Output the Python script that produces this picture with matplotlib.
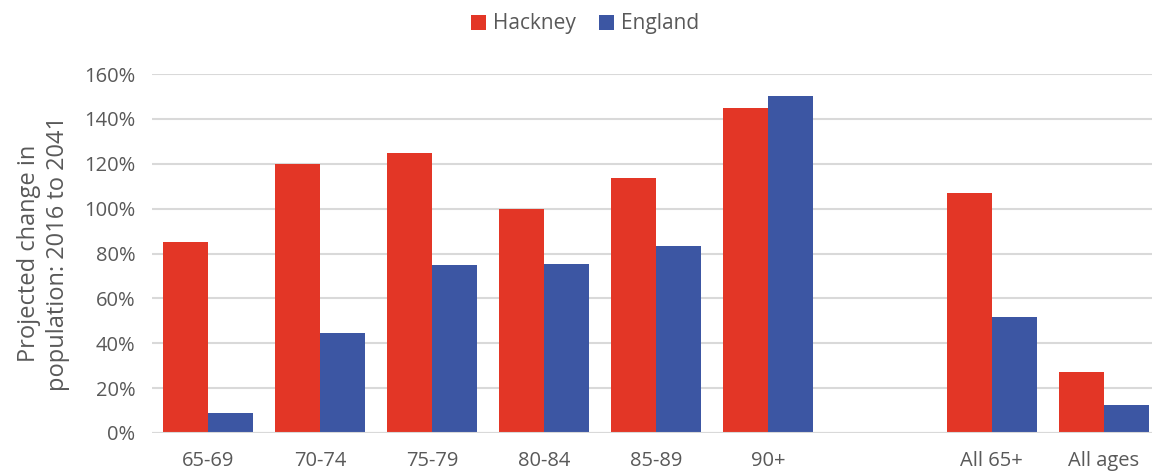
import numpy as np
import matplotlib.pyplot as plt

# data
CATEGORIES = ["65-69", "70-74", "75-79", "80-84", "85-89", "90+", "", "All 65+", "All ages"]
HACKNEY = [85, 120, 125, 100, 113.5, 145, np.nan, 107, 27]
ENGLAND = [9, 44.5, 75, 75.3, 83.5, 150, np.nan, 51.8, 12.3]
Y_TICKS = [0, 20, 40, 60, 80, 100, 120, 140, 160]

RED = "#E33626"
BLUE = "#3C56A3"
TEXT = "#595959"
GRID = "#D9D9D9"

plt.rcParams["font.family"] = ["Open Sans", "DejaVu Sans"]

fig = plt.figure(figsize=(11.52, 4.75), dpi=100)
ax = fig.add_axes([152 / 1152, 1 - 433 / 475, 1000 / 1152, 359 / 475])

x = np.arange(len(CATEGORIES))
width = 0.4
ax.bar(x - width / 2, HACKNEY, width, color=RED, label="Hackney", zorder=3)
ax.bar(x + width / 2, ENGLAND, width, color=BLUE, label="England", zorder=3)

ax.set_ylim(0, 160)
ax.set_xlim(-0.5, 8.43)
ax.set_yticks(Y_TICKS)
ax.set_yticklabels([f"{t}%" for t in Y_TICKS])
ax.set_xticks(x)
ax.set_xticklabels(CATEGORIES)
ax.tick_params(axis="both", length=0, labelsize=14.5, colors=TEXT)
ax.tick_params(axis="x", pad=13)
ax.tick_params(axis="y", pad=12)

ax.yaxis.grid(True, color=GRID, linewidth=1.5, zorder=0)
for side in ["top", "right", "left", "bottom"]:
    ax.spines[side].set_visible(False)
ax.axhline(0, color=GRID, linewidth=1.5, zorder=4)

ax.set_ylabel("Projected change in\npopulation: 2016 to 2041", fontsize=17,
              color=TEXT, labelpad=10, linespacing=1.3)

fig.legend(loc="center", bbox_to_anchor=(0.508, 1 - 24 / 475), ncol=2, frameon=False,
           fontsize=15, labelcolor=TEXT, handlelength=0.7, handleheight=0.7,
           handletextpad=0.35, columnspacing=1.1)

fig.savefig("out.png", dpi=100)
